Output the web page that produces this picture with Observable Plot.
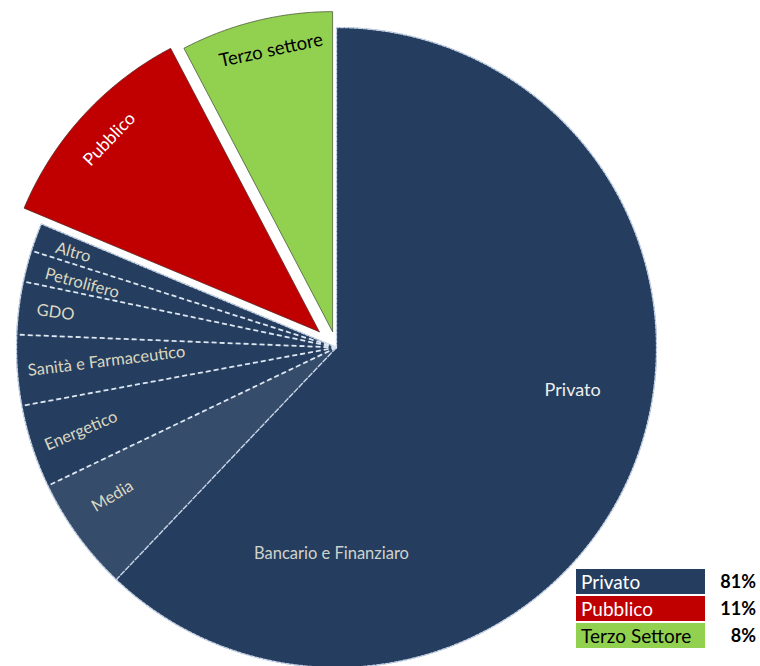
<!DOCTYPE html>
<html><head><meta charset="utf-8">
<script src="https://cdn.jsdelivr.net/npm/d3@7"></script>
<script src="https://cdn.jsdelivr.net/npm/@observablehq/plot@0.6"></script>
<style>
body{margin:0;background:#fff;font-family:Lato,"Open Sans",sans-serif}
#wrap{position:relative;width:760px;height:666px;overflow:hidden}
#legend{position:absolute;left:576px;top:569px;width:184px}
.row{position:relative;height:25px;margin-bottom:2px}
.box{position:absolute;left:0;top:0;width:129px;height:25px;font-size:19px;line-height:25px;padding-left:5px;box-sizing:border-box}
.pct{position:absolute;right:4px;top:0;line-height:25px;font-size:18px;font-weight:bold;color:#000}
</style></head><body><div id="wrap"></div>
<script>
// ---- data ----
const sectors = ["Privato", "Pubblico", "Terzo Settore"];
const sectorLabels = ["81%", "11%", "8%"];
const privateCategories = ["Bancario e Finanziaro", "Media", "Energetico", "Sanità e Farmaceutico", "GDO", "Petrolifero", "Altro"];
const privateShares = [62.08, 5.81, 4.19, 3.56, 2.67, 1.58, 1.42];
const publicShare = 11.0;
const thirdShare = 7.69;

// ---- styles ----
const NAVY = "#253e5f", MEDIA = "#364c6b", RED = "#c00000", GREEN = "#92d050";
const sectorColors = [NAVY, RED, GREEN];
const sectorText = ["#fff", "#fff", "#000"];
const explode = {"Pubblico": 0.073, "Terzo settore": 0.051};

// ---- build slices ----
const slices = [];
let acc = 0;
const total = privateShares.reduce((a, b) => a + b, 0) + publicShare + thirdShare;
function addSlice(name, v, group) {
  const a0 = acc / total * 360, a1 = (acc + v) / total * 360;
  acc += v;
  slices.push({name, group, a0, a1, mid: (a0 + a1) / 2, off: explode[name] || 0});
}
privateCategories.forEach((c, i) => addSlice(c, privateShares[i], "Privato"));
addSlice("Pubblico", publicShare, "Pubblico");
addSlice("Terzo settore", thirdShare, "Terzo");

const rad = d => d * Math.PI / 180;
const px = (a, r) => r * Math.sin(rad(a));
const py = (a, r) => -r * Math.cos(rad(a));

const pts = [];
for (const s of slices) {
  const cx = px(s.mid, s.off), cy = py(s.mid, s.off);
  pts.push({name: s.name, x: cx, y: cy});
  const n = Math.max(2, Math.ceil((s.a1 - s.a0) / 0.5));
  for (let k = 0; k <= n; k++) {
    const a = s.a0 + (s.a1 - s.a0) * k / n;
    pts.push({name: s.name, x: cx + px(a, 1), y: cy + py(a, 1)});
  }
  pts.push({name: s.name, x: cx, y: cy});
}
const privEnd = slices.find(s => s.name === "Altro").a1;
const outline = [{x: 0, y: 0}];
for (let a = 0; a <= privEnd + 1e-9; a += 0.5) outline.push({x: px(a, 1), y: py(a, 1)});
outline.push({x: px(privEnd, 1), y: py(privEnd, 1)}, {x: 0, y: 0});

const bounds = slices.filter(s => s.group === "Privato" && s.name !== "Bancario e Finanziaro")
  .map(s => ({a: s.a0, x2: px(s.a0, 1), y2: py(s.a0, 1), solid: s.name === "Media"}));

// ---- labels (polar positions) ----
const sl = n => slices.find(s => s.name === n);
const labels = [
  {text: "Privato", a: 100.3, r: 0.75, rot: 0, fill: "#eeeeee", size: 18, base: null},
  {text: "Bancario e Finanziaro", a: 181.4, r: 0.645, rot: 0, fill: "#d0d2cc", size: 16.5, base: null},
  {text: "Media", a: sl("Media").mid + 2.5, r: 0.84, rot: -31, fill: "#dcd7c0", size: 16.5, base: null},
  {text: "Energetico", a: sl("Energetico").mid, r: 0.84, rot: -23, fill: "#dcd7c0", size: 16.5, base: null},
  {text: "Sanità e Farmaceutico", a: sl("Sanità e Farmaceutico").mid + 0.7, r: 0.72, rot: -7, fill: "#dcd7c0", size: 16.5, base: null},
  {text: "GDO", a: sl("GDO").mid, r: 0.885, rot: 8, fill: "#dcd7c0", size: 16.5, base: null},
  {text: "Petrolifero", a: sl("Petrolifero").mid - 0.6, r: 0.82, rot: 15, fill: "#dcd7c0", size: 16.5, base: null},
  {text: "Altro", a: sl("Altro").mid - 0.3, r: 0.875, rot: 16, fill: "#dcd7c0", size: 16.5, base: null},
  {text: "Pubblico", a: sl("Pubblico").mid, r: 0.89, rot: -46, fill: "#ffffff", size: 17.5, base: "Pubblico"},
  {text: "Terzo settore", a: sl("Terzo settore").mid + 1.5, r: 0.9, rot: -12, fill: "#000000", size: 18.5, base: "Terzo settore"}
].map(l => {
  const s = l.base ? sl(l.base) : null;
  const ox = s ? px(s.mid, s.off) : 0, oy = s ? py(s.mid, s.off) : 0;
  return {...l, x: ox + px(l.a, l.r), y: oy + py(l.a, l.r)};
});

const R = 320;
const chart = Plot.plot({
  width: 760, height: 666, margin: 0,
  x: {domain: [-336 / R, 424 / R], range: [0, 760], axis: null},
  y: {domain: [-347 / R, 319 / R], range: [0, 666], axis: null},
  style: {fontFamily: "Lato, 'Open Sans', sans-serif", background: "#fff"},
  marks: [
    Plot.line(pts.filter(d => slices.find(s => s.name === d.name).group === "Privato" && d.name !== "Media"),
      {x: "x", y: "y", z: "name", fill: NAVY, stroke: NAVY, strokeWidth: 0.5, curve: "linear"}),
    Plot.line(pts.filter(d => d.name === "Media"),
      {x: "x", y: "y", z: "name", fill: MEDIA, stroke: MEDIA, strokeWidth: 0.5}),
    Plot.line(outline, {x: "x", y: "y", stroke: "#c9d6ea", strokeWidth: 1.3, strokeDasharray: "3,1.5"}),
    Plot.link(bounds.filter(d => !d.solid), {x1: 0, y1: 0, x2: "x2", y2: "y2", stroke: "#dde7f3", strokeWidth: 1.8, strokeDasharray: "5,3"}),
    Plot.link(bounds.filter(d => d.solid), {x1: 0, y1: 0, x2: "x2", y2: "y2", stroke: "#c9d6ea", strokeWidth: 1.4, strokeDasharray: "6,1"}),
    Plot.line(pts.filter(d => d.name === "Pubblico"),
      {x: "x", y: "y", z: "name", fill: RED, stroke: "#5a2a2a", strokeWidth: 0.8}),
    Plot.line(pts.filter(d => d.name === "Terzo settore"),
      {x: "x", y: "y", z: "name", fill: GREEN, stroke: "#4a5a3a", strokeWidth: 0.8}),
    Plot.text(labels, {x: "x", y: "y", text: "text", rotate: "rot", fill: "fill", fontSize: "size", textAnchor: "middle", lineAnchor: "middle"})
  ]
});
const wrap = document.getElementById("wrap");
wrap.appendChild(chart);

const leg = document.createElement("div");
leg.id = "legend";
sectors.forEach((s, i) => {
  const row = document.createElement("div");
  row.className = "row";
  const box = document.createElement("div");
  box.className = "box";
  box.style.background = sectorColors[i];
  box.style.color = sectorText[i];
  box.textContent = s;
  const pct = document.createElement("div");
  pct.className = "pct";
  pct.textContent = sectorLabels[i];
  row.appendChild(box); row.appendChild(pct);
  leg.appendChild(row);
});
wrap.appendChild(leg);
</script></body></html>
